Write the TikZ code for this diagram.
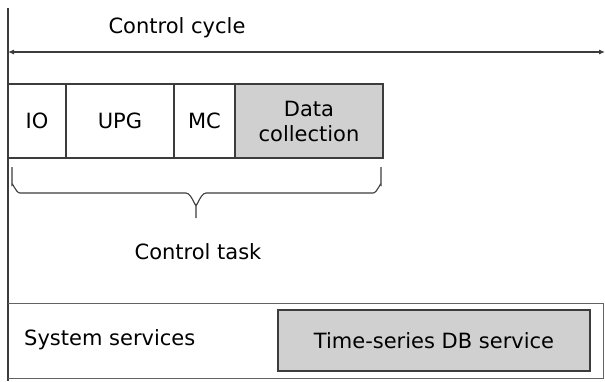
\documentclass[tikz,border=0pt]{standalone}
\usepackage{fontspec}
\setmainfont{DejaVu Sans}
\usepackage{xcolor}
\usetikzlibrary{positioning,calc,arrows.meta}
\definecolor{boxgray}{RGB}{208,208,208}
\definecolor{linegray}{RGB}{60,60,60}

\begin{document}
\begin{tikzpicture}[x=1pt,y=-1pt,
    txt/.style={font=\fontsize{21}{25}\selectfont, inner sep=0pt},
    blk/.style={txt, draw=linegray, line width=1.6pt, minimum height=74pt, outer sep=0pt, align=center}]
    \useasboundingbox (0,0) rectangle (605,381);

    % Time axis and control cycle
    \draw[linegray, line width=1.4pt] (8,8) -- (8,381);
    \coordinate (cycL) at (8,52);
    \coordinate (cycR) at (605,52);
    \draw[linegray, line width=1.1pt, {Latex[length=6pt,width=5pt]}-{Latex[length=6pt,width=5pt]}] (cycL) -- (cycR);
    \node[txt] (cycle) at (177,28) {Control cycle};

    % Control task blocks
    \node[blk, minimum width=58pt] (io) at (37,121) {IO};
    \node[blk, minimum width=108pt, right=0pt of io] (upg) {UPG};
    \node[blk, minimum width=61pt, right=0pt of upg] (mc) {MC};
    \node[blk, fill=boxgray, minimum width=148pt, right=0pt of mc] (dc) {Data\\collection};

    % Brace under the task
    \coordinate (brL) at ($(io.south west)+(4,9)$);
    \coordinate (brR) at ($(dc.south east)+(-2,9)$);
    \coordinate (brTip) at (196,218);
    \draw[linegray, line width=1.1pt] (brL) -- ++(0,18) to[out=90,in=180] ++(8,8) -- (186,193)
        to[out=0,in=-90] (196,204) -- (brTip);
    \draw[linegray, line width=1.1pt] (brR) -- ++(0,18) to[out=90,in=0] ++(-8,8) -- (206,193)
        to[out=180,in=-90] (196,204);
    \node[txt] (task) at (198,252) {Control task};

    % System services
    \draw[linegray!80, line width=1pt] (8,303) -- (603,303) -- (603,378) -- (8,378);
    \node[txt, anchor=west] (sys) at (24,340) {System services};
    \node[blk, fill=boxgray, minimum width=312pt, minimum height=61pt] (tsdb) at (434,340.5) {Time-series DB service};
\end{tikzpicture}
\end{document}
